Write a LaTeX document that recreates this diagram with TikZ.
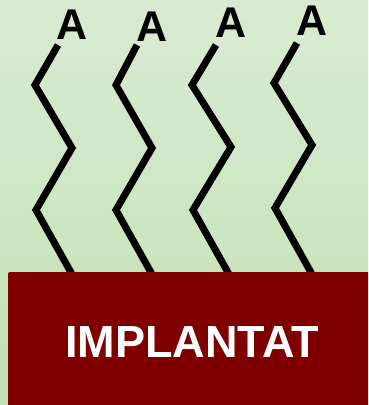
\documentclass[tikz,border=0pt]{standalone}
\usepackage{fontspec}
\setmainfont{Liberation Sans}
\usepackage{xcolor}
\usepackage{tikz}
\usetikzlibrary{positioning}

\definecolor{bgtop}{HTML}{D8EBD2}
\definecolor{bgbot}{HTML}{C1E1B3}
\definecolor{implred}{HTML}{800000}

\tikzset{
  chain/.style={line width=7pt,black,line join=miter},
  endgroup/.style={font=\fontsize{43}{43}\selectfont\bfseries,inner sep=0pt}
}

\begin{document}
\begin{tikzpicture}[x=1pt,y=-1pt]
\useasboundingbox (0,0) rectangle (368,405);
\clip (0,0) rectangle (368,405);
\shade[top color=bgtop,bottom color=bgbot] (0,0) rectangle (368,405);

\foreach \i/\xa/\ya/\xb/\yb/\xc/\yc/\xd/\yd/\xe/\ye/\xl/\yl in
  {1/58/45/35/85/72/148/36/210/73/276/72/25,
   2/137/45/116/85/152/148/116/210/153/276/152/27,
   3/216/45/192/85/231/147/193/210/230/276/231/23,
   4/297/43/274/83/312/145/275/208/313/276/312/21}
{
  \draw[chain] (\xa,\ya) -- (\xb,\yb) -- (\xc,\yc) -- (\xd,\yd) -- (\xe,\ye);
  \node[endgroup] (a\i) at (\xl,\yl) {A};
}

\fill[implred,rounded corners=2pt] (8,272) rectangle (380,420);
\node[text=white,font=\fontsize{45}{45}\selectfont\bfseries] (implantat) at (192,342) {IMPLANTAT};
\end{tikzpicture}
\end{document}
